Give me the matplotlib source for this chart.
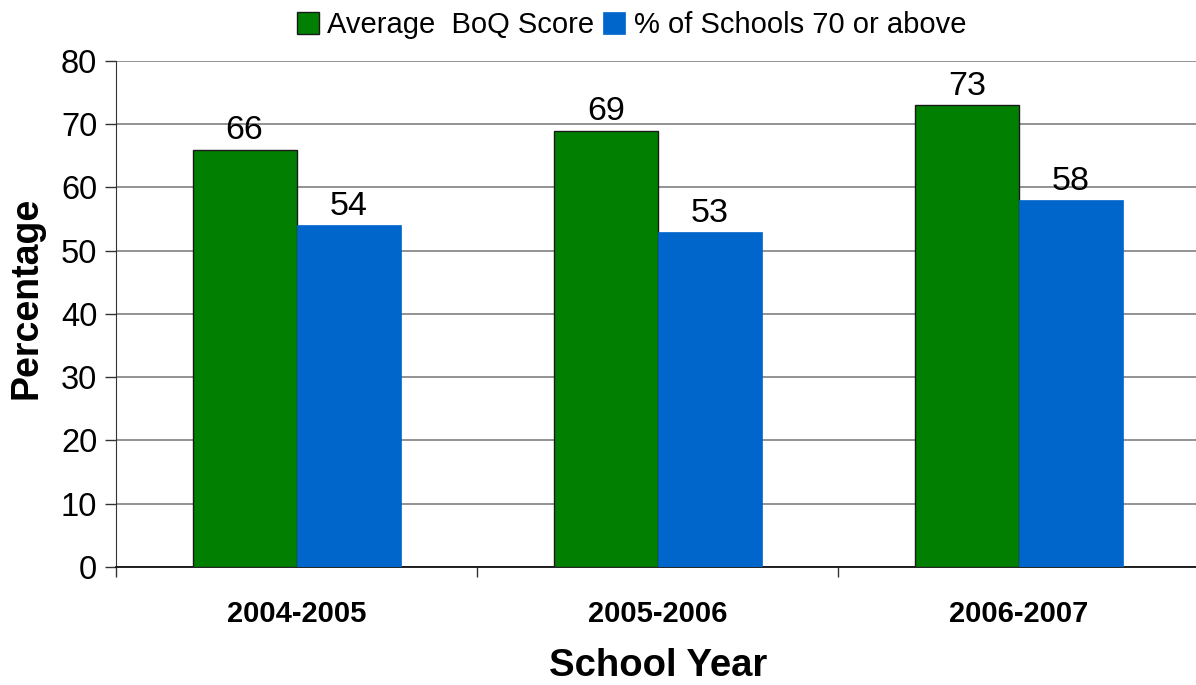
import matplotlib
matplotlib.use("Agg")
import matplotlib.pyplot as plt
import numpy as np

years = ["2004-2005", "2005-2006", "2006-2007"]
avg_boq = [66, 69, 73]
pct_schools = [54, 53, 58]
series_names = ["Average  BoQ Score", "% of Schools 70 or above"]
y_ticks = [0, 10, 20, 30, 40, 50, 60, 70, 80]

plt.rcParams["font.family"] = ["Liberation Sans", "DejaVu Sans"]

W, H = 1196, 685
fig = plt.figure(figsize=(W / 100, H / 100), dpi=100)
ax = fig.add_axes([0.097, 0.1723, 0.906, 0.7387])

x = np.arange(len(years))
w = 0.288
green = "#007f00"
blue = "#0066cc"
b1 = ax.bar(x - w / 2, avg_boq, w, color=green, edgecolor="#1a1a1a", linewidth=1.0, zorder=3,
            label=series_names[0])
b2 = ax.bar(x + w / 2, pct_schools, w, color=blue, edgecolor=blue, linewidth=0.5, zorder=3,
            label=series_names[1])

for bars, vals in ((b1, avg_boq), (b2, pct_schools)):
    for rect, v in zip(bars, vals):
        ax.text(rect.get_x() + rect.get_width() / 2, v + 0.5, str(v),
                ha="center", va="bottom", fontsize=24.5, zorder=4)

ax.set_xlim(-0.5, len(years) - 0.5)
ax.set_ylim(0, 80)
ax.set_yticks(y_ticks)
ax.yaxis.grid(True, color="#808080", linewidth=1.2, zorder=0)
ax.set_axisbelow(True)

ax.set_xticks(x)
ax.set_xticklabels(years, fontsize=21, fontweight="bold")
ax.tick_params(axis="x", length=0, pad=24)
ax.set_xticks(np.arange(len(years)) - 0.5, minor=True)
ax.tick_params(axis="x", which="minor", length=7, width=1, color="#333333")
ax.tick_params(axis="y", labelsize=23.5, length=8, width=1, color="#333333", pad=5.5)

for s in ("top", "right"):
    ax.spines[s].set_visible(False)
ax.spines["left"].set_color("#333333")
ax.spines["bottom"].set_color("#111111")
ax.spines["bottom"].set_linewidth(1.3)

# axis titles placed in figure pixels
fig.text(27 / W, 1 - 298 / H, "Percentage", rotation=90, ha="center", va="center",
         fontsize=27, fontweight="bold")
fig.text(658 / W, 1 - 676 / H, "School Year", ha="center", va="baseline",
         fontsize=27.5, fontweight="bold")

fig.legend(handles=[b1, b2], loc="upper center", bbox_to_anchor=(0.528, 1.022), ncol=2,
           frameon=False, fontsize=21, handlelength=0.75, handleheight=0.75,
           handletextpad=0.3, columnspacing=0.3)

fig.savefig("out.png", dpi=100)
